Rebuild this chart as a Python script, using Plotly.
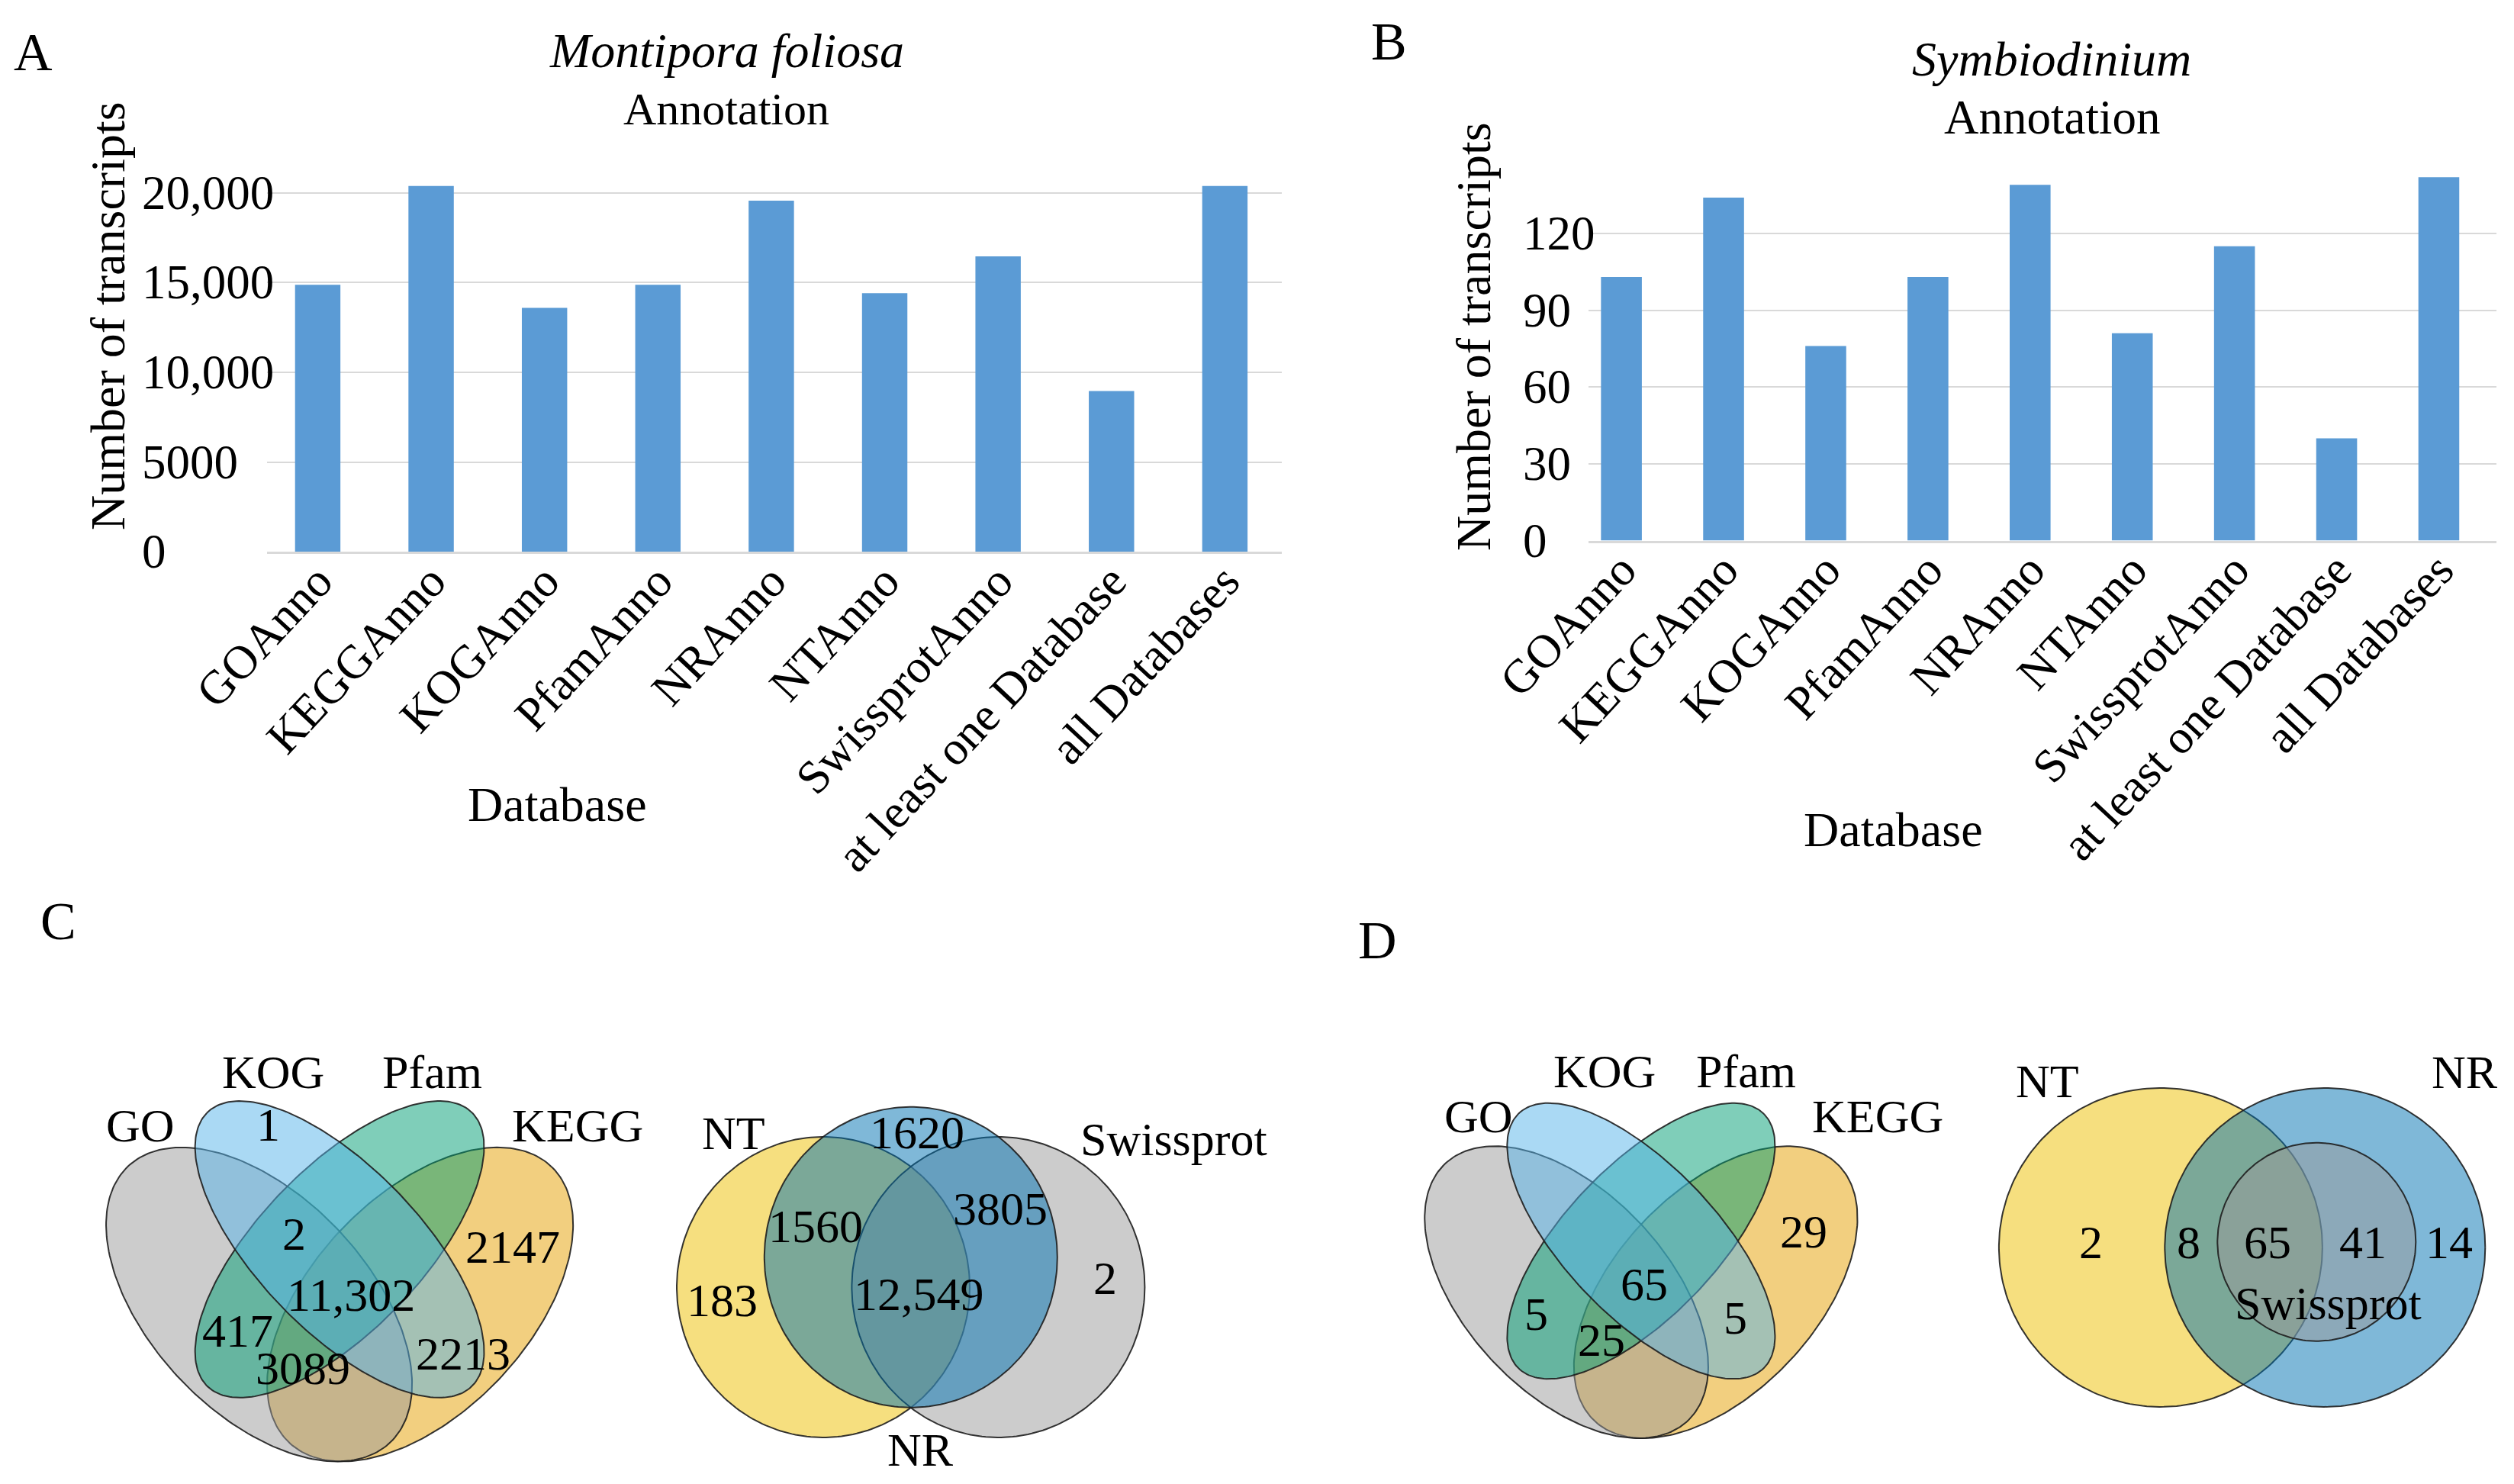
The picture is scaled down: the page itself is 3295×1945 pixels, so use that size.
import numpy as np
import plotly.graph_objects as go

W, H = 3295, 1945
FONT = "Liberation Serif"

# ---------------- data ----------------
categories = ["GOAnno", "KEGGAnno", "KOGAnno", "PfamAnno", "NRAnno", "NTAnno",
              "SwissprotAnno", "at least one Database", "all Databases"]
montipora_counts = [14870, 20370, 13590, 14870, 19560, 14400, 16450, 8960, 20370]
symbiodinium_counts = [103, 134, 76, 103, 139, 81, 115, 40, 142]

a_tickvals = [0, 5000, 10000, 15000, 20000]
a_ticktext = ["0", "5000", "10,000", "15,000", "20,000"]
b_tickvals = [0, 30, 60, 90, 120]
b_ticktext = ["0", "30", "60", "90", "120"]

quad_sets = ["GO", "KOG", "Pfam", "KEGG"]
c_quad_counts = ["1", "2", "11,302", "2147", "417", "3089", "2213"]
d_quad_counts = ["29", "65", "5", "25", "5"]
tri_sets = ["NT", "NR", "Swissprot"]
c_tri_counts = ["1620", "1560", "3805", "183", "12,549", "2"]
d_tri_counts = ["2", "8", "65", "41", "14"]

# ---------------- styles / layout geometry ----------------
BAR_COLOR = "#5b9bd5"
GRID = "#d9d9d9"
SET_COLORS = {"GO": (153, 153, 153), "KOG": (86, 180, 233), "Pfam": (0, 158, 115),
              "KEGG": (230, 159, 0), "NT": (237, 192, 0), "NR": (0, 114, 178),
              "Swissprot": (153, 153, 153)}
ALPHA = 0.5

# canonical 4-set ellipse layout (normalised units): cx, cy, a, b, rotation
QUAD_SHAPES = {"GO": (0.35, 0.47, 0.35, 0.20, 135), "KOG": (0.50, 0.57, 0.35, 0.15, 135),
               "Pfam": (0.50, 0.57, 0.35, 0.15, 45), "KEGG": (0.65, 0.47, 0.35, 0.20, 45)}
QUAD_ORDER = ["KEGG", "GO", "Pfam", "KOG"]
# transforms (pixel centre of normalised (0.5,0.5), x scale, y scale)
C_QUAD_T = (445.1, 1688.0, 703.5, 722.0)
D_QUAD_T = (2150.9, 1673.5, 652.0, 671.4)
C_QUAD_SET_POS = [(0.129, 0.795), (0.376, 0.892), (0.672, 0.892), (0.943, 0.795)]
C_QUAD_CNT_POS = [(0.367, 0.796), (0.415, 0.599), (0.521, 0.488), (0.823, 0.575),
                  (0.310, 0.423), (0.431, 0.354), (0.730, 0.381)]
D_QUAD_SET_POS = [(0.174, 0.813), (0.427, 0.902), (0.7115, 0.902), (0.975, 0.813)]
D_QUAD_CNT_POS = [(0.827, 0.588), (0.506, 0.486), (0.2885, 0.428), (0.420, 0.3765),
                  (0.689, 0.421)]

# 3-set diagrams in pixel units: cx, cy, rx, ry
C_TRI_SHAPES = {"NT": (1079, 1687, 192, 197), "NR": (1193.8, 1647.8, 192, 197),
                "Swissprot": (1308.4, 1687, 192, 197)}
C_TRI_ORDER = ["NT", "Swissprot", "NR"]
C_TRI_SET_POS = [(961.7, 1484.9), (1206.8, 1899.6), (1538, 1492.7)]
C_TRI_CNT_POS = [(1201.6, 1483.8), (1068.6, 1607.4), (1311.2, 1584), (946.1, 1704),
                 (1204.2, 1696.1), (1448.3, 1675.3)]
D_TRI_SHAPES = {"NT": (2831.9, 1634.9, 212, 209), "NR": (3047.3, 1634.9, 210, 209),
                "Swissprot": (3036.3, 1627.7, 130, 130)}
D_TRI_ORDER = ["NT", "NR", "Swissprot"]
D_TRI_SET_POS = [(2683, 1417.4), (3230.5, 1404.5), (3051.8, 1708.3)]
D_TRI_CNT_POS = [(2740.3, 1628.2), (2868.6, 1628.2), (2971.6, 1628.2), (3096.7, 1628.2),
                 (3209.8, 1628.2)]


def rgba(c, a):
    return f"rgba({c[0]},{c[1]},{c[2]},{a})"


def ellipse(cx, cy, a, b, rot, n=240):
    t = np.linspace(0, 2 * np.pi, n)
    th = np.radians(rot)
    x = cx + a * np.cos(t) * np.cos(th) - b * np.sin(t) * np.sin(th)
    y = cy + a * np.cos(t) * np.sin(th) + b * np.sin(t) * np.cos(th)
    return x, y


def to_px(T, xn, yn):
    cx, cy, sx, sy = T
    return cx + (np.asarray(xn) - 0.5) * sx, cy - (np.asarray(yn) - 0.5) * sy


fig = go.Figure()

# ---------------- bar charts ----------------
fig.add_trace(go.Bar(x=categories, y=montipora_counts, marker_color=BAR_COLOR,
                     marker_line_width=0, width=0.4, xaxis="x", yaxis="y",
                     hoverinfo="skip", showlegend=False))
fig.add_trace(go.Bar(x=categories, y=symbiodinium_counts, marker_color=BAR_COLOR,
                     marker_line_width=0, width=0.4, xaxis="x2", yaxis="y2",
                     hoverinfo="skip", showlegend=False))

# ---------------- venn diagrams ----------------
def add_shape_trace(xs, ys, color):
    fig.add_trace(go.Scatter(x=xs, y=ys, mode="lines", fill="toself",
                             fillcolor=rgba(color, ALPHA),
                             line=dict(color="rgba(30,30,30,0.9)", width=2),
                             xaxis="x3", yaxis="y3", hoverinfo="skip", showlegend=False))


for T in (C_QUAD_T, D_QUAD_T):
    for s in QUAD_ORDER:
        ex, ey = ellipse(*QUAD_SHAPES[s])
        px, py = to_px(T, ex, ey)
        add_shape_trace(px, py, SET_COLORS[s])

for shapes, order in ((C_TRI_SHAPES, C_TRI_ORDER), (D_TRI_SHAPES, D_TRI_ORDER)):
    for s in order:
        cx, cy, rx, ry = shapes[s]
        ex, ey = ellipse(cx, cy, rx, ry, 0)
        add_shape_trace(ex, ey, SET_COLORS[s])

annotations = []


def txt(x, y, s, size=62, italic=False, angle=0):
    annotations.append(dict(x=x, y=y, xref="x3", yref="y3", text=(f"<i>{s}</i>" if italic else s),
                            showarrow=False, textangle=angle,
                            font=dict(family=FONT, size=size, color="black"),
                            xanchor="center", yanchor="middle"))


for T, set_pos, cnt_pos, cnts in ((C_QUAD_T, C_QUAD_SET_POS, C_QUAD_CNT_POS, c_quad_counts),
                                  (D_QUAD_T, D_QUAD_SET_POS, D_QUAD_CNT_POS, d_quad_counts)):
    for name, (xn, yn) in zip(quad_sets, set_pos):
        x, y = to_px(T, xn, yn)
        txt(float(x), float(y), name)
    for c, (xn, yn) in zip(cnts, cnt_pos):
        x, y = to_px(T, xn, yn)
        txt(float(x), float(y), c)

for name, (x, y) in zip(tri_sets, C_TRI_SET_POS):
    txt(x, y, name)
for c, (x, y) in zip(c_tri_counts, C_TRI_CNT_POS):
    txt(x, y, c)
for name, (x, y) in zip(tri_sets, D_TRI_SET_POS):
    txt(x, y, name)
for c, (x, y) in zip(d_tri_counts, D_TRI_CNT_POS):
    txt(x, y, c)

# panel letters, titles, axis titles
txt(43, 68, "A", size=70)
txt(1820, 54, "B", size=70)
txt(76, 1207, "C", size=70)
txt(1805, 1232, "D", size=70)
txt(952, 66, "Montipora foliosa", size=64, italic=True)
txt(952, 143, "Annotation", size=60)
txt(2689, 77, "Symbiodinium", size=64, italic=True)
txt(2689, 154, "Annotation", size=63)
txt(141, 414, "Number of transcripts", size=64, angle=-90)
txt(1931, 441, "Number of transcripts", size=64, angle=-90)
txt(730, 1054, "Database", size=64)
txt(2481, 1087, "Database", size=64)

# left-aligned y tick labels placed on the value scale of each bar axis
for yref, xpx, vals, texts in (("y", 184, a_tickvals, a_ticktext),
                               ("y2", 1994, b_tickvals, b_ticktext)):
    for v, t in zip(vals, texts):
        annotations.append(dict(x=xpx / W, y=v, xref="paper", yref=yref, text=t,
                                showarrow=False, xanchor="left", yanchor="middle",
                                font=dict(family=FONT, size=63, color="black")))


def px2fx(px):
    return px / W


def px2fy(py):
    return 1 - py / H


tickfont = dict(family=FONT, size=62, color="black")
xcommon = dict(type="category", categoryorder="array", categoryarray=categories,
               tickangle=-47, tickfont=tickfont, showgrid=False, showline=True,
               linecolor=GRID, linewidth=3, ticks="", fixedrange=True, automargin=False,
               ticklabelstandoff=-26)
ycommon = dict(showticklabels=False, showgrid=True, gridcolor=GRID, gridwidth=2,
               zeroline=False, showline=False, ticks="", fixedrange=True, automargin=False)

fig.update_layout(
    template="none",
    width=W, height=H, autosize=False,
    margin=dict(l=0, r=0, t=0, b=0, pad=0),
    paper_bgcolor="white", plot_bgcolor="rgba(0,0,0,0)",
    bargap=0.6, showlegend=False,
    xaxis=dict(domain=[px2fx(350), px2fx(1680)], range=[-0.447, 8.502], anchor="y", **xcommon),
    yaxis=dict(domain=[px2fy(723.3), px2fy(229)], range=[0, 21000], anchor="x",
               tickvals=a_tickvals, **ycommon),
    xaxis2=dict(domain=[px2fx(2082), px2fx(3272)], range=[-0.322, 8.564], anchor="y2", **xcommon),
    yaxis2=dict(domain=[px2fy(708.6), px2fy(222.1)], range=[0, 145], anchor="x2",
                tickvals=b_tickvals, **ycommon),
    xaxis3=dict(domain=[0, 1], range=[0, W], anchor="y3", visible=False, fixedrange=True,
                automargin=False),
    yaxis3=dict(domain=[0, 1], range=[H, 0], anchor="x3", visible=False, fixedrange=True,
                automargin=False),
    annotations=annotations,
    font=dict(family=FONT),
)

fig.write_html("out.html", config={"displayModeBar": False},
               post_script="document.body.style.margin='0';document.body.style.overflow='hidden';")
